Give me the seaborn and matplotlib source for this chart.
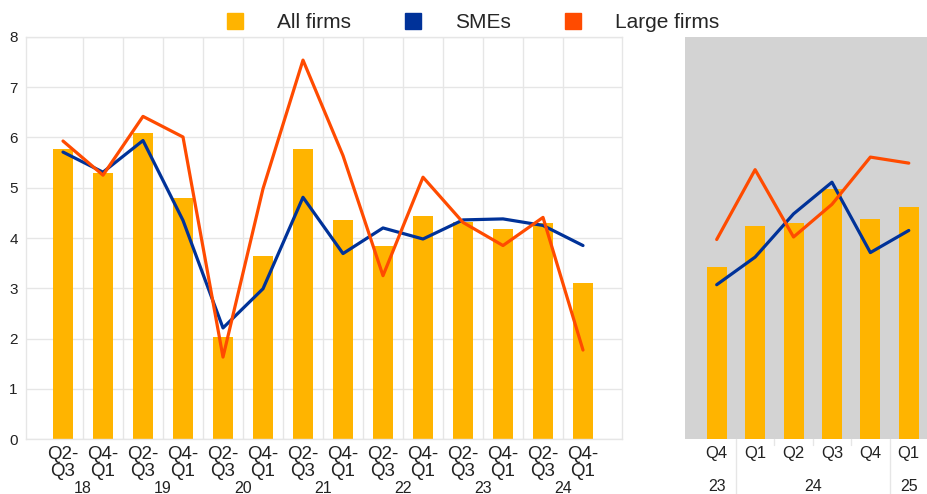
import numpy as np
import pandas as pd
import seaborn as sns
import matplotlib.pyplot as plt
from matplotlib.lines import Line2D
from matplotlib.transforms import blended_transform_factory

#   data
periods = ['18 Q2-Q3', '18 Q4-Q1', '19 Q2-Q3', '19 Q4-Q1', '20 Q2-Q3', '20 Q4-Q1', '21 Q2-Q3',
           '21 Q4-Q1', '22 Q2-Q3', '22 Q4-Q1', '23 Q2-Q3', '23 Q4-Q1', '24 Q2-Q3', '24 Q4-Q1']
period_labels = ['Q2-\nQ3', 'Q4-\nQ1'] * 7
period_years = ['18', '19', '20', '21', '22', '23', '24']
all_firms = [5.77, 5.29, 6.08, 4.80, 2.02, 3.65, 5.78, 4.35, 3.85, 4.43, 4.31, 4.18, 4.29, 3.11]
smes = [5.71, 5.31, 5.94, 4.35, 2.21, 2.99, 4.81, 3.69, 4.20, 3.98, 4.36, 4.38, 4.25, 3.85]
large = [5.93, 5.25, 6.42, 6.01, 1.63, 4.98, 7.54, 5.64, 3.25, 5.21, 4.31, 3.85, 4.41, 1.77]

quarters = ['23 Q4', '24 Q1', '24 Q2', '24 Q3', '24 Q4', '25 Q1']
quarter_labels = ['Q4', 'Q1', 'Q2', 'Q3', 'Q4', 'Q1']
q_all_firms = [3.42, 4.23, 4.29, 4.97, 4.38, 4.61]
q_smes = [3.07, 3.62, 4.48, 5.11, 3.71, 4.15]
q_large = [3.97, 5.36, 4.02, 4.67, 5.61, 5.49]

YELLOW = '#FFB400'
BLUE = '#003299'
ORANGE = '#FF4B00'
GRID = '#e6e6e6'
TXT = '#222222'

sns.set_style('white')
plt.rcParams['font.family'] = ['Liberation Sans', 'DejaVu Sans']

left = pd.DataFrame({'period': periods, 'all': all_firms, 'sme': smes, 'large': large})
left['pos'] = np.arange(len(left))
right = pd.DataFrame({'period': quarters, 'all': q_all_firms, 'sme': q_smes, 'large': q_large})
right['pos'] = np.arange(len(right))

W, H = 928, 494
fig = plt.figure(figsize=(W / 100, H / 100), dpi=100)
ax1 = fig.add_axes([26 / W, (H - 439) / H, (622 - 26) / W, (439 - 37) / H])
ax2 = fig.add_axes([685 / W, (H - 439) / H, (928 - 685) / W, (439 - 37) / H])

#   left panel: half-year data
sns.barplot(data=left, x='pos', y='all', color=YELLOW, width=0.5, native_scale=True,
            saturation=1, linewidth=0, ax=ax1, zorder=2)
sns.lineplot(data=left, x='pos', y='sme', color=BLUE, lw=2.3, ax=ax1, zorder=3)
sns.lineplot(data=left, x='pos', y='large', color=ORANGE, lw=2.3, ax=ax1, zorder=4)
ax1.set_xlim(-0.925, 13.975)
ax1.set_ylim(0, 8)
ax1.set_yticks(range(9))
ax1.set_xlabel('')
ax1.set_ylabel('')
ax1.set_xticks(left['pos'], period_labels, fontsize=13.5, linespacing=1.0, color=TXT)
ax1.set_xticks(left['pos'][:-1] + 0.5, minor=True)
ax1.tick_params(axis='x', which='major', length=0, pad=5)
ax1.tick_params(axis='x', which='minor', length=8, color=GRID, width=1)
ax1.tick_params(axis='y', length=0, labelsize=11, labelcolor=TXT, pad=6)
ax1.grid(True, axis='y', color=GRID, lw=1, zorder=0)
ax1.grid(True, axis='x', which='minor', color=GRID, lw=1, zorder=0)
for s in ax1.spines.values():
    s.set_color(GRID)
    s.set_linewidth(1)
tr1 = blended_transform_factory(ax1.transData, fig.transFigure)
for i, yr in enumerate(period_years):
    ax1.text(2 * i + 0.5, (H - 488) / H, yr, transform=tr1, ha='center', va='center',
             fontsize=11.5, color=TXT)

#   right panel: quarterly data
ax2.set_facecolor('#d3d3d3')
sns.barplot(data=right, x='pos', y='all', color=YELLOW, width=0.52, native_scale=True,
            saturation=1, linewidth=0, ax=ax2, zorder=2)
sns.lineplot(data=right, x='pos', y='sme', color=BLUE, lw=2.3, ax=ax2, zorder=3)
sns.lineplot(data=right, x='pos', y='large', color=ORANGE, lw=2.3, ax=ax2, zorder=4)
ax2.set_xlim(-0.825, 5.5)
ax2.set_ylim(0, 8)
ax2.set_yticks([])
ax2.set_xlabel('')
ax2.set_ylabel('')
ax2.set_xticks(right['pos'], quarter_labels, fontsize=12, color=TXT)
ax2.tick_params(axis='x', which='major', length=0, pad=5)
for s in ax2.spines.values():
    s.set_visible(False)
tr2 = blended_transform_factory(ax2.transData, fig.transFigure)
for x0 in [0.5, 4.5]:
    ax2.plot([x0, x0], [(H - 439) / H, 0], transform=tr2, color=GRID, lw=1, clip_on=False)
for x0 in [1.5, 2.5, 3.5]:
    ax2.plot([x0, x0], [(H - 439) / H, (H - 445) / H], transform=tr2, color=GRID, lw=1,
             clip_on=False)
for x0, yr in [(0, '23'), (2.5, '24'), (5, '25')]:
    ax2.text(x0, (H - 486) / H, yr, transform=tr2, ha='center', va='center',
             fontsize=11.5, color=TXT)

#   legend
handles = [Line2D([], [], marker='s', ls='none', color=c, markersize=12)
           for c in [YELLOW, BLUE, ORANGE]]
fig.legend(handles, ['All firms', 'SMEs', 'Large firms'], loc='center',
           bbox_to_anchor=(472 / W, (H - 23) / H), ncol=3, frameon=False, fontsize=15,
           handletextpad=1.5, columnspacing=2.5, handlelength=1.0)

fig.savefig('out.png', dpi=100)
